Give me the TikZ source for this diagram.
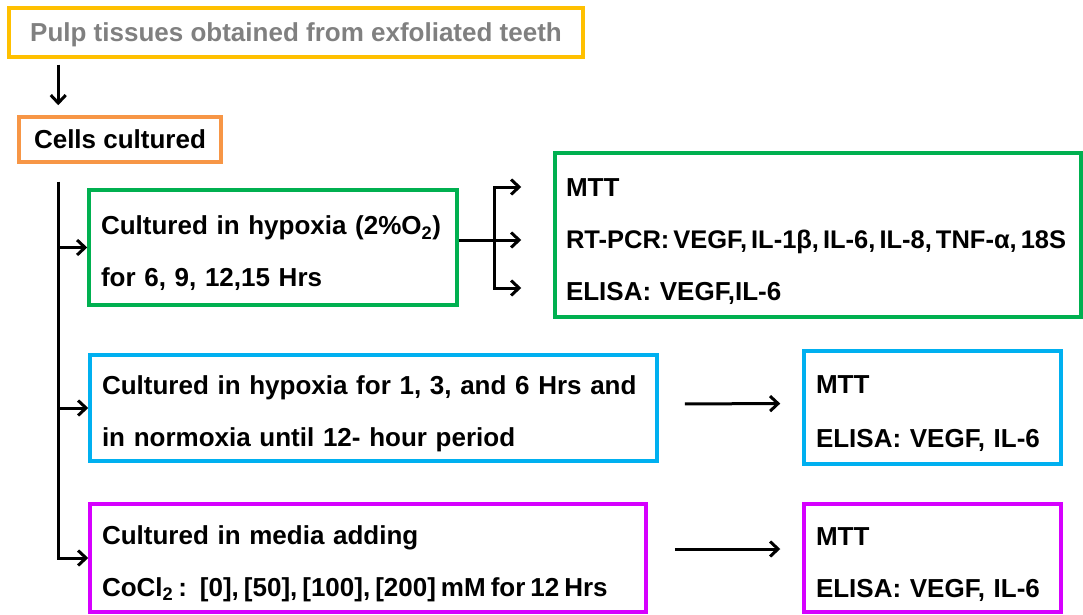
\documentclass[tikz,border=0pt]{standalone}
\usepackage{fontspec}
\setmainfont{Liberation Sans}
\usetikzlibrary{positioning, arrows.meta}

\definecolor{amarillo}{HTML}{FFC000}
\definecolor{naranja}{HTML}{F79646}
\definecolor{verde}{HTML}{00B050}
\definecolor{celeste}{HTML}{00B0F0}
\definecolor{violeta}{HTML}{D600FF}
\definecolor{gris}{HTML}{808080}

\begin{document}
\begin{tikzpicture}[x=1pt,y=-1pt,>={Straight Barb[length=8pt,width=15pt]},
    caja/.style={draw,rectangle,line width=3.5pt,inner xsep=12pt,inner ysep=0pt,
                 align=left,font=\fontsize{26}{52}\selectfont\bfseries},
    lineas/.style={execute at begin node={\rule{0pt}{31pt}}},
    flecha/.style={->,line width=3pt}]
            \useasboundingbox (0,0) rectangle (1083,615);

            %%% NODOS (cajas) %%%
            % Muestra y cultivo
            \node[caja,draw=amarillo,text=gris,minimum width=574pt,minimum height=49pt,
                  execute at begin node={\rule{0pt}{24pt}}]
                (pulp) at (296,32.5) {Pulp tissues obtained from exfoliated teeth};
            \node[caja,draw=naranja,minimum width=202pt,minimum height=45pt]
                (cells) at (120,139.5) {Cells cultured};

            % Condiciones
            \node[caja,lineas,draw=verde,minimum width=368pt,minimum height=115pt,text width=344pt]
                (hyp) at (273,247.5) {Cultured in hypoxia (2\%O\textsubscript{2})\\for 6, 9, 12,15 Hrs};
            \node[caja,lineas,draw=celeste,minimum width=567pt,minimum height=106pt,text width=543pt]
                (reox) at (373.5,408) {Cultured in hypoxia for 1, 3, and 6 Hrs and\\in normoxia until 12- hour period};
            \node[caja,lineas,draw=violeta,minimum width=556pt,minimum height=108pt,text width=532pt]
                (coc) at (368,558) {Cultured in media adding\\\mbox{\spaceskip=5pt CoCl\textsubscript{2} : [0], [50], [100], [200] mM for 12 Hrs}};

            % Ensayos
            \node[caja,lineas,draw=verde,minimum width=526pt,minimum height=164pt,text width=504pt,inner xsep=11pt]
                (hypres) at (818,235) {MTT\\\mbox{\fontsize{25.5}{52}\selectfont\spaceskip=4pt RT-PCR: VEGF, IL-1β, IL-6, IL-8, TNF-α, 18S}\\ELISA: VEGF,IL-6};
            \node[caja,lineas,draw=celeste,minimum width=257pt,minimum height=113pt,text width=233pt]
                (reoxres) at (932.5,407.5) {MTT\\[2pt]ELISA: VEGF, IL-6};
            \node[caja,lineas,draw=violeta,minimum width=257pt,minimum height=108pt,text width=233pt]
                (cocres) at (932.5,558) {MTT\\ELISA: VEGF, IL-6};

            %%% FLECHAS %%%
            \draw[flecha] ([xshift=51pt,yshift=-6pt]pulp.south west) -- ([xshift=41pt,yshift=10pt]cells.north west);

            % Tronco vertical
            \coordinate (tronco) at ([xshift=41pt,yshift=-18pt]cells.south west);
            \draw[flecha] (tronco) |- (hyp.west);
            \draw[flecha] (tronco) |- (reox.west);
            \draw[flecha] (tronco) |- (coc.west);

            % Rama de hipoxia
            \coordinate (rama) at ([xshift=36pt,yshift=7.5pt]hyp.east);
            \draw[line width=3pt] (hyp.east |- rama) -- (rama);
            \draw[flecha] (rama) |- ([xshift=-32pt,yshift=48pt]hypres.west);
            \draw[flecha] (rama) -- ([xshift=-32pt,yshift=-5pt]hypres.west);
            \draw[flecha] (rama) |- ([xshift=-32pt,yshift=-53pt]hypres.west);

            % Resultados
            \draw[flecha,shorten <=26pt,shorten >=22pt] ([yshift=4pt]reox.east) -- ([yshift=4pt]reoxres.west);
            \draw[flecha,shorten <=27pt,shorten >=22pt] ([yshift=9pt]coc.east) -- ([yshift=9pt]cocres.west);
\end{tikzpicture}
\end{document}
